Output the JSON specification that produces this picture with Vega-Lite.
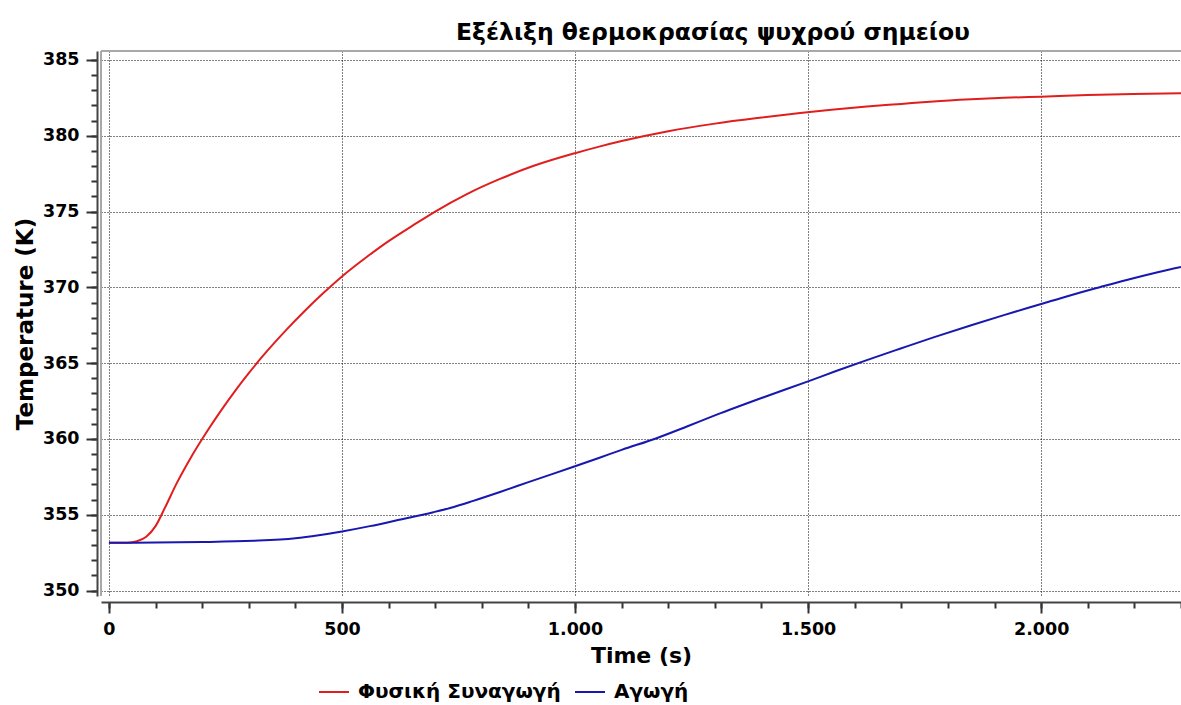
{
  "$schema": "https://vega.github.io/schema/vega-lite/v6.json",
  "width": 1080,
  "height": 545,
  "autosize": {"type": "none"},
  "padding": {"left": 101, "top": 51, "right": 0, "bottom": 109},
  "background": "#ffffff",
  "config": {
    "view": {"stroke": null},
    "font": "DejaVu Sans",
    "axis": {
      "labelFont": "DejaVu Sans",
      "labelFontWeight": "bold",
      "labelColor": "#000000",
      "titleFont": "DejaVu Sans",
      "titleFontWeight": "bold",
      "titleColor": "#000000",
      "tickColor": "#333333",
      "domainColor": "#444444"
    }
  },
  "title": {
    "text": "Εξέλιξη θερμοκρασίας ψυχρού σημείου",
    "anchor": "start",
    "frame": "group",
    "dx": 355,
    "offset": 6,
    "font": "DejaVu Sans",
    "fontSize": 23.5,
    "fontWeight": "bold",
    "color": "#000000"
  },
  "data": {
    "values": [
      {"t": 0, "T": 353.15, "s": "Φυσική Συναγωγή"},
      {"t": 40, "T": 353.16, "s": "Φυσική Συναγωγή"},
      {"t": 60, "T": 353.25, "s": "Φυσική Συναγωγή"},
      {"t": 80, "T": 353.55, "s": "Φυσική Συναγωγή"},
      {"t": 100, "T": 354.25, "s": "Φυσική Συναγωγή"},
      {"t": 120, "T": 355.45, "s": "Φυσική Συναγωγή"},
      {"t": 145, "T": 357.05, "s": "Φυσική Συναγωγή"},
      {"t": 175, "T": 358.73, "s": "Φυσική Συναγωγή"},
      {"t": 210, "T": 360.47, "s": "Φυσική Συναγωγή"},
      {"t": 240, "T": 361.85, "s": "Φυσική Συναγωγή"},
      {"t": 270, "T": 363.14, "s": "Φυσική Συναγωγή"},
      {"t": 300, "T": 364.34, "s": "Φυσική Συναγωγή"},
      {"t": 340, "T": 365.82, "s": "Φυσική Συναγωγή"},
      {"t": 380, "T": 367.18, "s": "Φυσική Συναγωγή"},
      {"t": 420, "T": 368.44, "s": "Φυσική Συναγωγή"},
      {"t": 460, "T": 369.62, "s": "Φυσική Συναγωγή"},
      {"t": 500, "T": 370.72, "s": "Φυσική Συναγωγή"},
      {"t": 553, "T": 372.0, "s": "Φυσική Συναγωγή"},
      {"t": 600, "T": 373.05, "s": "Φυσική Συναγωγή"},
      {"t": 653, "T": 374.1, "s": "Φυσική Συναγωγή"},
      {"t": 700, "T": 375.0, "s": "Φυσική Συναγωγή"},
      {"t": 768, "T": 376.15, "s": "Φυσική Συναγωγή"},
      {"t": 839, "T": 377.15, "s": "Φυσική Συναγωγή"},
      {"t": 910, "T": 378.0, "s": "Φυσική Συναγωγή"},
      {"t": 1000, "T": 378.85, "s": "Φυσική Συναγωγή"},
      {"t": 1054, "T": 379.3, "s": "Φυσική Συναγωγή"},
      {"t": 1100, "T": 379.65, "s": "Φυσική Συναγωγή"},
      {"t": 1200, "T": 380.3, "s": "Φυσική Συναγωγή"},
      {"t": 1300, "T": 380.8, "s": "Φυσική Συναγωγή"},
      {"t": 1400, "T": 381.2, "s": "Φυσική Συναγωγή"},
      {"t": 1483, "T": 381.5, "s": "Φυσική Συναγωγή"},
      {"t": 1550, "T": 381.72, "s": "Φυσική Συναγωγή"},
      {"t": 1626, "T": 381.93, "s": "Φυσική Συναγωγή"},
      {"t": 1700, "T": 382.1, "s": "Φυσική Συναγωγή"},
      {"t": 1769, "T": 382.26, "s": "Φυσική Συναγωγή"},
      {"t": 1850, "T": 382.4, "s": "Φυσική Συναγωγή"},
      {"t": 1920, "T": 382.5, "s": "Φυσική Συναγωγή"},
      {"t": 2000, "T": 382.58, "s": "Φυσική Συναγωγή"},
      {"t": 2100, "T": 382.68, "s": "Φυσική Συναγωγή"},
      {"t": 2198, "T": 382.76, "s": "Φυσική Συναγωγή"},
      {"t": 2300, "T": 382.8, "s": "Φυσική Συναγωγή"},
      {"t": 0, "T": 353.15, "s": "Αγωγή"},
      {"t": 100, "T": 353.17, "s": "Αγωγή"},
      {"t": 200, "T": 353.2, "s": "Αγωγή"},
      {"t": 310, "T": 353.28, "s": "Αγωγή"},
      {"t": 400, "T": 353.45, "s": "Αγωγή"},
      {"t": 450, "T": 353.65, "s": "Αγωγή"},
      {"t": 500, "T": 353.9, "s": "Αγωγή"},
      {"t": 560, "T": 354.25, "s": "Αγωγή"},
      {"t": 620, "T": 354.65, "s": "Αγωγή"},
      {"t": 696, "T": 355.17, "s": "Αγωγή"},
      {"t": 732, "T": 355.45, "s": "Αγωγή"},
      {"t": 780, "T": 355.9, "s": "Αγωγή"},
      {"t": 839, "T": 356.5, "s": "Αγωγή"},
      {"t": 900, "T": 357.15, "s": "Αγωγή"},
      {"t": 1000, "T": 358.2, "s": "Αγωγή"},
      {"t": 1054, "T": 358.78, "s": "Αγωγή"},
      {"t": 1100, "T": 359.28, "s": "Αγωγή"},
      {"t": 1175, "T": 360.05, "s": "Αγωγή"},
      {"t": 1240, "T": 360.82, "s": "Αγωγή"},
      {"t": 1304, "T": 361.6, "s": "Αγωγή"},
      {"t": 1400, "T": 362.7, "s": "Αγωγή"},
      {"t": 1500, "T": 363.8, "s": "Αγωγή"},
      {"t": 1560, "T": 364.48, "s": "Αγωγή"},
      {"t": 1626, "T": 365.2, "s": "Αγωγή"},
      {"t": 1697, "T": 365.95, "s": "Αγωγή"},
      {"t": 1769, "T": 366.7, "s": "Αγωγή"},
      {"t": 1850, "T": 367.5, "s": "Αγωγή"},
      {"t": 1920, "T": 368.17, "s": "Αγωγή"},
      {"t": 2000, "T": 368.9, "s": "Αγωγή"},
      {"t": 2060, "T": 369.45, "s": "Αγωγή"},
      {"t": 2127, "T": 370.02, "s": "Αγωγή"},
      {"t": 2200, "T": 370.62, "s": "Αγωγή"},
      {"t": 2250, "T": 371.0, "s": "Αγωγή"},
      {"t": 2300, "T": 371.35, "s": "Αγωγή"}
    ]
  },
  "layer": [
    {
      "mark": {"type": "rule", "color": "#a8a8a8", "strokeWidth": 2},
      "encoding": {"y": {"datum": 385.59, "type": "quantitative", "axis": null}}
    },
    {
      "mark": {"type": "rule", "color": "#a8a8a8", "strokeWidth": 2},
      "encoding": {"x": {"datum": -17, "type": "quantitative", "axis": null}}
    },
    {
      "mark": {"type": "line", "opacity": 0},
      "encoding": {
        "x": {
          "field": "t", "type": "quantitative",
          "axis": {
            "orient": "bottom", "offset": 6,
            "values": [0,100,200,300,400,500,600,700,800,900,1000,1100,1200,1300,1400,1500,1600,1700,1800,1900,2000,2100,2200,2300],
            "labels": false, "domain": false, "grid": false, "title": null,
            "tickSize": 6, "tickWidth": 2
          }
        },
        "y": {
          "field": "T", "type": "quantitative",
          "axis": {
            "orient": "left", "offset": 4,
            "values": [350,351,352,353,354,355,356,357,358,359,360,361,362,363,364,365,366,367,368,369,370,371,372,373,374,375,376,377,378,379,380,381,382,383,384,385],
            "labels": false, "domain": false, "grid": false, "title": null,
            "tickSize": 6, "tickWidth": 2
          }
        },
        "detail": {"field": "s"}
      }
    },
    {
      "mark": {"type": "line", "strokeWidth": 2, "interpolate": "monotone"},
      "encoding": {
        "x": {
          "field": "t", "type": "quantitative",
          "scale": {"domain": [-17, 2300], "nice": false, "zero": false},
          "axis": {
            "orient": "bottom", "offset": 6,
            "values": [0, 500, 1000, 1500, 2000],
            "labelExpr": "replace(format(datum.value, ','), ',', '.')",
            "title": "Time (s)",
            "titleFontSize": 22, "titlePadding": 8,
            "labelFontSize": 17.5, "labelPadding": 7,
            "tickSize": 11, "tickWidth": 2, "domainWidth": 2,
            "grid": true, "gridColor": "#000000", "gridDash": [1, 2], "gridWidth": 1, "gridOpacity": 1
          }
        },
        "y": {
          "field": "T", "type": "quantitative",
          "scale": {"domain": [349.64, 385.59], "nice": false, "zero": false},
          "axis": {
            "orient": "left", "offset": 4,
            "values": [350, 355, 360, 365, 370, 375, 380, 385],
            "title": "Temperature (K)",
            "titleFontSize": 23, "titlePadding": 5,
            "labelFontSize": 17.5, "labelPadding": 7,
            "tickSize": 11, "tickWidth": 2, "domainWidth": 2,
            "grid": true, "gridColor": "#000000", "gridDash": [1, 2], "gridWidth": 1, "gridOpacity": 1
          }
        },
        "color": {
          "field": "s", "type": "nominal", "sort": null,
          "scale": {"domain": ["Φυσική Συναγωγή", "Αγωγή"], "range": ["#e01e1e", "#1818b0"]},
          "legend": {
            "orient": "none", "legendX": 217, "legendY": 625,
            "direction": "horizontal", "title": null,
            "symbolType": "stroke", "symbolSize": 900, "symbolStrokeWidth": 2,
            "labelFont": "DejaVu Sans", "labelFontSize": 20, "labelFontWeight": "bold", "labelColor": "#000000",
            "labelLimit": 400, "columnSpacing": 14, "labelOffset": 8
          }
        }
      }
    }
  ],
  "resolve": {"axis": {"x": "independent", "y": "independent"}}
}
